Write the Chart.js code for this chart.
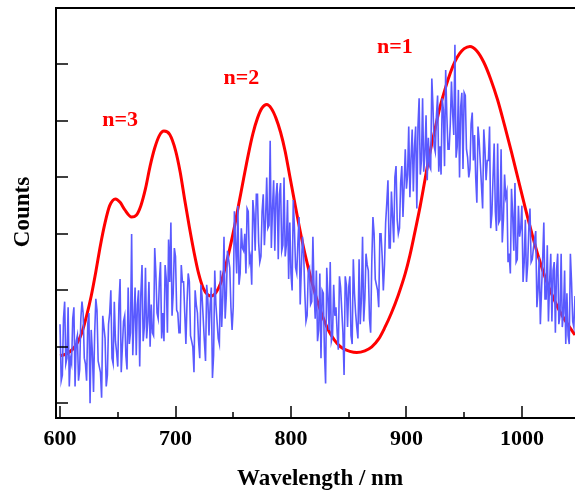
<!DOCTYPE html>
<html>
<head>
<meta charset="utf-8">
<script src="https://cdn.jsdelivr.net/npm/chart.js@4/dist/chart.umd.min.js"></script>
<style>
  html, body { margin: 0; padding: 0; background: #fff; }
  #wrap { width: 575px; height: 494px; }
</style>
</head>
<body>
<div id="wrap"><canvas id="spectrum"></canvas></div>
<script>
// measured spectrum: even wavelengths 600..1046 nm and odd wavelengths 601..1045 nm
var blueEvenStart = 600;
var blueOddStart = 601;
var blueStep = 2;
var blueEven = [
    1.4, 0.5, 1.8, 0.8, 0.3,   0.7, 1.7, 1.1, 0.4, 1.5,
    1.6, 0.7, 1.4, 0.0, 0.9,   1.25, 1.65, 0.65, 0.1, 1.35,
    0.3, 1.4, 2.0, 0.7, 1.1,   0.65, 2.2, 1.0, 1.55, 0.6,
    1.05, 3.0, 1.5, 0.85, 2.0, 1.95, 1.1, 2.4, 1.45, 1.0,
    1.25, 2.75, 1.6, 2.15, 1.15, 1.1, 2.2, 2.9, 3.2, 1.95,
    2.6, 1.6, 1.25, 2.15, 1.6, 1.8, 2.15, 1.1, 0.55, 1.75,
    1.1, 2.1, 1.5, 0.75, 1.85, 1.75, 0.45, 2.35, 1.45, 1.05,
    1.35, 2.95, 1.9, 2.55, 1.7, 1.7, 2.85, 3.5, 2.3, 2.75,
    3.0, 3.45, 2.5, 2.1, 3.35, 3.7, 2.85, 2.6, 3.7, 3.25,
    3.1, 4.65, 3.45, 2.7, 3.9, 3.7, 2.7, 4.0, 2.8, 2.2,
    2.3, 3.6, 2.4, 2.85, 1.75, 2.95, 1.95, 1.55, 2.4, 1.8,
    2.0, 2.35, 1.3, 0.8, 1.95, 0.35, 1.9, 2.5, 1.2, 1.55,
    1.25, 2.25, 1.65, 0.5, 2.1, 2.05, 1.2, 2.55, 1.6, 1.15,
    1.4, 2.95, 1.85, 2.45, 1.5, 2.5, 3.0, 2.1, 1.7, 3.0,
    2.0, 3.2, 3.95, 2.75, 3.3, 4.0, 3.25, 3.1, 4.2, 3.85,
    3.8, 4.9, 4.35, 3.75, 4.9, 4.9, 4.05, 5.4, 4.4, 3.95,
    4.2, 5.75, 4.55, 5.1, 4.1, 4.05, 5.2, 5.9, 4.5, 4.95,
    5.15, 6.35, 4.55, 4.0, 5.5, 5.5, 4.5, 4.0, 4.95, 4.3,
    4.0, 4.9, 4.25, 3.45, 4.5, 4.3, 4.9, 3.35, 4.6, 3.05,
    3.2, 4.5, 3.25, 3.65, 2.5, 2.3, 3.35, 3.9, 2.55, 2.95,
    3.5, 2.5, 2.15, 3.1, 2.5, 2.75, 3.05, 2.0, 1.4, 2.55,
    1.85, 2.8, 2.15, 1.45, 2.5, 2.35, 1.4, 2.65, 1.6, 1.05,
    1.2, 2.65, 1.45, 1.9
];
var blueOdd = [
    0.4, 1.5, 0.7, 1.7, 0.8,   1.5, 0.3, 1.2, 0.6, 1.8,
    0.8, 0.4, 1.6, 1.3, 0.2,   1.85, 0.75, 0.55, 1.55, 1.15,
    0.5, 1.6, 0.8, 1.8, 0.9,   1.75, 0.55, 1.45, 0.85, 2.05,
    1.25, 0.85, 2.05, 1.75, 0.65, 2.45, 1.35, 1.15, 2.15, 1.75,
    1.2, 2.3, 1.5, 2.5, 1.6,   2.45, 1.25, 2.15, 1.55, 2.75,
    1.65, 1.25, 2.45, 2.15, 1.05, 2.3, 1.2, 1.0, 2.0, 1.6,
    0.8, 1.9, 1.1, 2.1, 1.2,   2.05, 0.85, 1.75, 1.15, 2.35,
    1.9, 1.5, 2.7, 2.4, 1.3,   3.4, 2.3, 2.1, 3.1, 2.7,
    2.3, 3.4, 2.6, 3.6, 2.7,   3.7, 2.5, 3.4, 2.8, 4.0,
    3.15, 2.75, 3.95, 3.65, 2.55, 3.9, 2.8, 2.6, 3.6, 3.2,
    2.0, 3.1, 2.3, 3.3, 2.4,   2.65, 1.45, 2.35, 1.75, 2.95,
    1.5, 1.1, 2.3, 2.0, 0.9,   2.4, 1.3, 1.1, 2.1, 1.7,
    0.95, 2.05, 1.25, 2.25, 1.35, 2.25, 1.05, 1.95, 1.35, 2.55,
    1.85, 1.45, 2.65, 2.35, 1.25, 3.3, 2.2, 2.0, 3.0, 2.6,
    2.45, 3.55, 2.75, 3.75, 2.85, 4.2, 3.0, 3.9, 3.3, 4.5,
    4.05, 3.65, 4.85, 4.55, 3.45, 5.4, 4.3, 4.1, 5.1, 4.7,
    4.15, 5.25, 4.45, 5.45, 4.55, 5.4, 4.2, 5.1, 4.5, 5.7,
    4.75, 4.35, 5.55, 5.25, 4.15, 5.45, 4.35, 4.15, 5.15, 4.75,
    3.55, 4.65, 3.85, 4.85, 3.95, 4.3, 3.1, 4.0, 3.4, 4.6,
    3.25, 2.85, 4.05, 3.75, 2.65, 3.8, 2.7, 2.5, 3.5, 3.1,
    2.15, 3.25, 2.45, 3.45, 2.55, 2.9, 1.7, 2.6, 2.0, 3.2,
    1.85, 1.45, 2.65, 2.35, 1.25, 2.65, 1.55, 1.35, 2.35, 1.95,
    1.05, 2.15, 1.35
];

// fitted curve (red)
var fitNm = [600, 606, 611, 615, 619, 623, 627, 631, 635, 639, 643, 648, 652, 656, 662, 666, 670, 674, 678, 682,
    686, 690, 695, 700, 704, 708, 712, 716, 720, 724, 728, 731, 735, 739, 743, 747, 751, 755, 759, 763,
    767, 771, 775, 779, 783, 787, 791, 795, 799, 803, 807, 811, 815, 819, 823, 827, 831, 835, 840, 845,
    851, 857, 864, 870, 876, 881, 887, 893, 899, 903, 907, 912, 916, 920, 925, 929, 934, 938, 942, 946,
    950, 955, 961, 967, 973, 979, 985, 991, 997, 1003, 1009, 1015, 1021, 1027, 1033, 1039, 1046];
var fitCounts = [0.84, 0.88, 0.96, 1.07, 1.26, 1.55, 1.9, 2.33, 2.8, 3.2, 3.5, 3.62, 3.56, 3.43, 3.3, 3.33, 3.5, 3.8, 4.2, 4.52,
    4.74, 4.82, 4.76, 4.48, 4.1, 3.6, 3.12, 2.68, 2.3, 2.04, 1.92, 1.9, 1.96, 2.12, 2.4, 2.74, 3.12, 3.55, 3.98, 4.4,
    4.77, 5.05, 5.23, 5.29, 5.22, 5.05, 4.8, 4.46, 4.02, 3.58, 3.15, 2.75, 2.4, 2.08, 1.8, 1.56, 1.36, 1.2, 1.06, 0.97,
    0.92, 0.9, 0.93, 1.0, 1.14, 1.33, 1.6, 1.92, 2.3, 2.62, 3.0, 3.5, 3.95, 4.4, 4.88, 5.24, 5.6, 5.85, 6.05, 6.19,
    6.28, 6.32, 6.24, 6.04, 5.74, 5.37, 4.92, 4.45, 3.95, 3.45, 2.98, 2.55, 2.18, 1.88, 1.62, 1.42, 1.21];

var xTicks = [600, 700, 800, 900, 1000];
var xMinorTicks = [650, 750, 850, 950, 1050];
var yTicks = [0, 1, 2, 3, 4, 5, 6];

var peakLabels = ['n=3', 'n=2', 'n=1'];
var peakLabelNm = [652, 757, 890];
var peakLabelY = [5.02, 5.75, 6.3];

var serif = '"Liberation Serif", "Times New Roman", serif';

var bluePts = [];
for (let i = 0; i < blueEven.length; i++) {
    bluePts.push({x: blueEvenStart + i * blueStep, y: blueEven[i]});
    if (i < blueOdd.length) {
        bluePts.push({x: blueOddStart + i * blueStep, y: blueOdd[i]});
    }
}
var fitPts = [];
for (let i = 0; i < fitNm.length; i++) {
    fitPts.push({x: fitNm[i], y: fitCounts[i]});
}

// axes frame, inward ticks, labels and titles
var framePlugin = {
    id: 'frame',
    afterDraw: function(chart) {
        var ctx = chart.ctx;
        var a = chart.chartArea;
        var xs = chart.scales.x;
        var ys = chart.scales.y;
        ctx.save();
        ctx.strokeStyle = '#000';
        ctx.lineWidth = 2;
        ctx.beginPath();
        ctx.moveTo(a.right, a.top); ctx.lineTo(a.left, a.top);
        ctx.lineTo(a.left, a.bottom); ctx.lineTo(a.right, a.bottom);
        ctx.stroke();

        ctx.lineWidth = 1.5;
        ctx.beginPath();
        xTicks.forEach(function(v) {
            var px = Math.round(xs.getPixelForValue(v));
            ctx.moveTo(px, a.bottom); ctx.lineTo(px, a.bottom - 12);
        });
        xMinorTicks.forEach(function(v) {
            var px = Math.round(xs.getPixelForValue(v));
            ctx.moveTo(px, a.bottom); ctx.lineTo(px, a.bottom - 6);
        });
        yTicks.forEach(function(v) {
            var py = Math.round(ys.getPixelForValue(v));
            ctx.moveTo(a.left, py); ctx.lineTo(a.left + 12, py);
        });
        ctx.stroke();

        ctx.fillStyle = '#000';
        ctx.font = 'bold 22px ' + serif;
        ctx.textAlign = 'center';
        ctx.textBaseline = 'middle';
        xTicks.forEach(function(v) {
            ctx.fillText(String(v), xs.getPixelForValue(v), a.bottom + 21);
        });
        ctx.font = 'bold 23px ' + serif;
        ctx.fillText('Wavelength / nm', 320, a.bottom + 61);

        ctx.save();
        ctx.translate(23, 212);
        ctx.rotate(-Math.PI / 2);
        ctx.fillText('Counts', 0, 0);
        ctx.restore();

        ctx.font = 'bold 22px ' + serif;
        ctx.fillStyle = '#ff0000';
        for (let i = 0; i < peakLabels.length; i++) {
            ctx.fillText(peakLabels[i], xs.getPixelForValue(peakLabelNm[i]), ys.getPixelForValue(peakLabelY[i]));
        }
        ctx.restore();
    }
};

var spectrumChart = new Chart(document.getElementById('spectrum').getContext('2d'), {
    type: 'line',
    data: {
        datasets: [
            {
                label: 'spectrum',
                data: bluePts,
                borderColor: '#5a5aff',
                borderWidth: 1.6,
                pointRadius: 0,
                tension: 0
            },
            {
                label: 'fit',
                data: fitPts,
                borderColor: '#ff0000',
                borderWidth: 3,
                pointRadius: 0,
                cubicInterpolationMode: 'monotone'
            }
        ]
    },
    options: {
        responsive: true,
        maintainAspectRatio: false,
        animation: false,
        layout: { padding: { left: 56, top: 8, right: 0, bottom: 76 } },
        plugins: { legend: { display: false }, tooltip: { enabled: false } },
        scales: {
            x: { type: 'linear', min: 596.5, max: 1046, display: false },
            y: { type: 'linear', min: -0.26, max: 7.0, display: false }
        }
    },
    plugins: [framePlugin]
});
</script>
</body>
</html>
